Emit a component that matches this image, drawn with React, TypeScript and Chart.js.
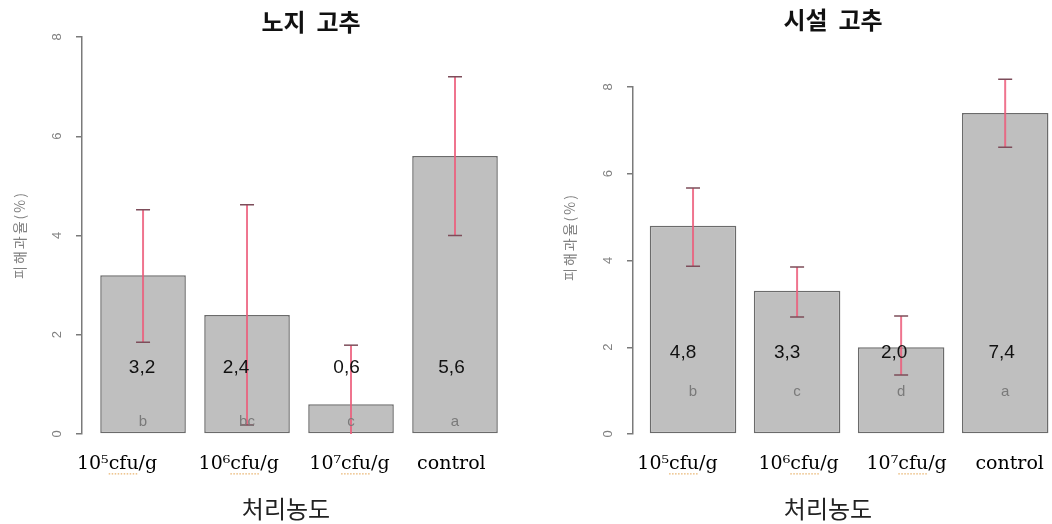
import { useEffect, useRef } from "react";
import { Chart, registerables } from "chart.js";

Chart.register(...registerables);

// Treatment concentrations on the x axis
const categories = ["10⁵cfu/g", "10⁶cfu/g", "10⁷cfu/g", "control"];

// 노지 고추: mean damage rate, error range and significance letters
const fieldMeans = [3.2, 2.4, 0.6, 5.6];
const fieldErrLow = [1.85, 0.18, -0.6, 4.0];
const fieldErrHigh = [4.52, 4.62, 1.79, 7.2];
const fieldLetters = ["b", "bc", "c", "a"];

// 시설 고추: mean damage rate, error range and significance letters
const houseMeans = [4.8, 3.3, 2.0, 7.4];
const houseErrLow = [3.87, 2.7, 1.36, 6.61];
const houseErrHigh = [5.67, 3.85, 2.72, 8.18];
const houseLetters = ["b", "c", "d", "a"];

const yMin = 0;
const yMax = 8;
const yStep = 2;

const X_TITLE = "처리농도";
const Y_TITLE = "피해과율(%)";

const KR_FONT = "'Noto Sans CJK KR', 'Noto Sans', sans-serif";
const TICK_FONT = "'DejaVu Serif', serif";
const TICK_SIZE = 19;
const TICK_PAD = 19;
const ERR_LINE = "rgba(236, 92, 122, 0.85)";
const ERR_CAP = "#7d4d5a";

type PanelSpec = {
  title: string;
  means: number[];
  errLow: number[];
  errHigh: number[];
  letters: string[];
  left: number;
  width: number;
  axisWidth: number;
  padTop: number;
  padRight: number;
  xMin: number;
  xMax: number;
  tickShift: number[];
  titlePos: [number, number];
  xTitlePos: [number, number];
  yTitlePos: [number, number];
  valueY: number;
  valueDx: number[];
  letterY: number;
};

const panels: PanelSpec[] = [
  {
    title: "노지  고추",
    means: fieldMeans,
    errLow: fieldErrLow,
    errHigh: fieldErrHigh,
    letters: fieldLetters,
    left: 0,
    width: 540,
    axisWidth: 82,
    padTop: 37,
    padRight: 33,
    xMin: -0.587,
    xMax: 3.5,
    tickShift: [-0.25, -0.08, -0.015, -0.035],
    titlePos: [311, 22],
    xTitlePos: [286, 509],
    yTitlePos: [20, 235],
    valueY: 1.33,
    valueDx: [-1, -11, -4.5, -3.5],
    letterY: 0.24,
  },
  {
    title: "시설  고추",
    means: houseMeans,
    errLow: houseErrLow,
    errHigh: houseErrHigh,
    letters: houseLetters,
    left: 540,
    width: 512,
    axisWidth: 93,
    padTop: 87,
    padRight: 0,
    xMin: -0.577,
    xMax: 3.45,
    tickShift: [-0.15, 0.015, 0.053, 0.043],
    titlePos: [293, 20],
    xTitlePos: [288, 509],
    yTitlePos: [30, 237],
    valueY: 1.88,
    valueDx: [-10, -10, -7, -3.5],
    letterY: 0.97,
  },
];

const fmt = (v: number) => v.toFixed(1).replace(".", ",");

function annotations(p: PanelSpec) {
  return {
    id: "panelAnnotations",
    afterDatasetsDraw(chart: any) {
      const { ctx, scales } = chart;
      const y = scales.y;
      const meta = chart.getDatasetMeta(0);
      ctx.save();
      // error bars, clipped at the zero line
      p.means.forEach((_m, i) => {
        const bx = meta.data[i].x;
        const lowClipped = p.errLow[i] < yMin;
        const yTop = y.getPixelForValue(p.errHigh[i]);
        const yBot = y.getPixelForValue(Math.max(p.errLow[i], yMin));
        ctx.strokeStyle = ERR_LINE;
        ctx.lineWidth = 2;
        ctx.beginPath();
        ctx.moveTo(bx, yTop);
        ctx.lineTo(bx, yBot);
        ctx.stroke();
        ctx.strokeStyle = ERR_CAP;
        ctx.lineWidth = 1.5;
        ctx.beginPath();
        ctx.moveTo(bx - 7, yTop);
        ctx.lineTo(bx + 7, yTop);
        if (!lowClipped) {
          ctx.moveTo(bx - 7, yBot);
          ctx.lineTo(bx + 7, yBot);
        }
        ctx.stroke();
      });
      // mean values and significance letters
      ctx.textAlign = "center";
      ctx.textBaseline = "middle";
      p.means.forEach((m, i) => {
        const bx = meta.data[i].x;
        ctx.fillStyle = "#111";
        ctx.font = "19px 'Liberation Sans', sans-serif";
        ctx.fillText(fmt(m), bx + p.valueDx[i], y.getPixelForValue(p.valueY));
        ctx.fillStyle = "#7a7a7a";
        ctx.font = "15px 'Liberation Sans', sans-serif";
        ctx.fillText(p.letters[i], bx, y.getPixelForValue(p.letterY));
      });
      ctx.restore();
    },
    afterDraw(chart: any) {
      const { ctx, scales } = chart;
      const x = scales.x;
      ctx.save();
      // spell-check style dotted underline beneath "cfu"
      ctx.font = `${TICK_SIZE}px ${TICK_FONT}`;
      ctx.strokeStyle = "#e3a04a";
      ctx.lineWidth = 1;
      ctx.setLineDash([1.5, 1.5]);
      const underlineY = x.top + TICK_PAD + TICK_SIZE * 0.6 + 9.5;
      categories.forEach((label, i) => {
        const k = label.indexOf("cfu");
        if (k < 0) return;
        const cx = x.getPixelForTick(i);
        const start = cx - ctx.measureText(label).width / 2 + ctx.measureText(label.slice(0, k)).width;
        const w = ctx.measureText("cfu").width;
        ctx.beginPath();
        ctx.moveTo(start, underlineY);
        ctx.lineTo(start + w, underlineY);
        ctx.stroke();
      });
      ctx.setLineDash([]);

      ctx.textAlign = "center";
      ctx.textBaseline = "middle";
      ctx.fillStyle = "#111";
      ctx.font = `bold 24px ${KR_FONT}`;
      ctx.fillText(p.title, p.titlePos[0], p.titlePos[1]);
      ctx.fillStyle = "#222";
      ctx.font = `24px ${KR_FONT}`;
      ctx.fillText(X_TITLE, p.xTitlePos[0], p.xTitlePos[1]);
      ctx.translate(p.yTitlePos[0], p.yTitlePos[1]);
      ctx.rotate(-Math.PI / 2);
      ctx.fillStyle = "#808080";
      ctx.font = `14px ${KR_FONT}`;
      (ctx as any).letterSpacing = "2px";
      ctx.fillText(Y_TITLE, 0, 0);
      ctx.restore();
    },
  };
}

function Panel({ spec }: { spec: PanelSpec }) {
  const ref = useRef<HTMLCanvasElement>(null);
  useEffect(() => {
    const chart = new Chart(ref.current as HTMLCanvasElement, {
      type: "bar",
      data: {
        datasets: [
          {
            data: spec.means.map((v, i) => ({ x: i, y: v })),
            backgroundColor: "#bfbfbf",
            borderColor: "#6b6b6b",
            borderWidth: 1.5,
            borderSkipped: false,
            barPercentage: 0.84,
            categoryPercentage: 1,
          },
        ],
      },
      options: {
        animation: false,
        responsive: false,
        events: [],
        layout: { padding: { top: spec.padTop, right: spec.padRight, left: 0, bottom: 0 } },
        plugins: { legend: { display: false }, tooltip: { enabled: false }, title: { display: false } },
        scales: {
          x: {
            type: "linear",
            position: "bottom",
            min: spec.xMin,
            max: spec.xMax,
            offset: false,
            grid: { display: false, drawTicks: false },
            border: { display: false },
            afterBuildTicks: (s: any) => {
              s.ticks = categories.map((_c, i) => ({ value: i + spec.tickShift[i] }));
            },
            afterFit: (s: any) => {
              s.height = 90;
              s.paddingLeft = 0;
              s.paddingRight = 0;
            },
            ticks: {
              autoSkip: false,
              maxRotation: 0,
              minRotation: 0,
              padding: TICK_PAD,
              color: "#000",
              font: { family: TICK_FONT, size: TICK_SIZE },
              callback: (_v: any, i: number) => categories[i],
            },
          },
          y: {
            type: "linear",
            min: yMin,
            max: yMax,
            grid: {
              display: true,
              drawOnChartArea: false,
              drawTicks: true,
              tickLength: 6,
              color: "#7a7a7a",
              lineWidth: 1.5,
            },
            border: { display: true, color: "#7a7a7a", width: 1.5 },
            afterFit: (s: any) => {
              s.width = spec.axisWidth;
            },
            ticks: {
              stepSize: yStep,
              minRotation: 90,
              maxRotation: 90,
              crossAlign: "center",
              padding: 15,
              color: "#808080",
              font: { family: "'Liberation Sans', sans-serif", size: 13 },
            },
          },
        },
      },
      plugins: [annotations(spec)],
    } as any);
    return () => chart.destroy();
  }, [spec]);
  return (
    <canvas
      ref={ref}
      width={spec.width}
      height={524}
      style={{ position: "absolute", left: spec.left, top: 0, width: spec.width, height: 524 }}
    />
  );
}

export default function App() {
  return (
    <div style={{ position: "absolute", left: 0, top: 0, width: 1052, height: 524, background: "#fff" }}>
      {panels.map((p) => (
        <Panel key={p.title} spec={p} />
      ))}
    </div>
  );
}
